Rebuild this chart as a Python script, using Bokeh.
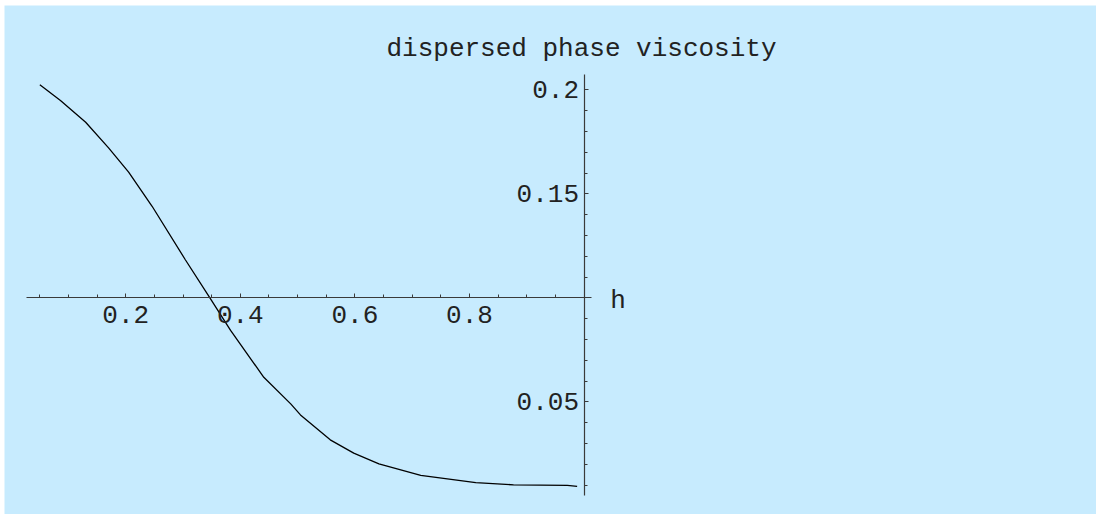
from bokeh.plotting import figure
from bokeh.models import Range1d, FixedTicker, Label
from bokeh.embed import file_html
from bokeh.resources import INLINE

# dispersed phase viscosity as a function of hold-up h
h = [0.050, 0.086, 0.130, 0.170, 0.205, 0.246, 0.304, 0.348, 0.383, 0.441,
     0.488, 0.505, 0.557, 0.598, 0.642, 0.715, 0.811, 0.877, 0.971, 0.988]
visc = [0.2024, 0.1949, 0.1844, 0.1721, 0.1604, 0.1440, 0.1183, 0.0995, 0.0843, 0.0618,
        0.0490, 0.0437, 0.0317, 0.0253, 0.0202, 0.0146, 0.0111, 0.0101, 0.0098, 0.0093]

x_ticks = [0.2, 0.4, 0.6, 0.8]
x_tick_labels = ["0.2", "0.4", "0.6", "0.8"]
x_minor = [0.05, 0.1, 0.15, 0.25, 0.3, 0.35, 0.45, 0.5, 0.55, 0.65, 0.7, 0.75, 0.85, 0.9, 0.95]
y_ticks = [0.05, 0.15, 0.2]
y_tick_labels = ["0.05", "0.15", "0.2"]
y_minor = [0.01, 0.02, 0.03, 0.04, 0.06, 0.07, 0.08, 0.09, 0.1, 0.11, 0.12, 0.13, 0.14,
           0.16, 0.17, 0.18, 0.19]

FONT = "Liberation Mono"
BG = "#C7EBFE"
INK = "#222222"
AXIS = "#3a3a3a"

W, H = 1096, 514
# pixels per unit and the screen position of the axes' crossing point (1, 0.1)
sx, x0 = 572.8, 10.7
sy, ycross = 2080.0, 297.3
left_pad, top_pad = 4, 5

p = figure(width=W, height=H, output_backend="svg", toolbar_location=None,
           x_range=Range1d((left_pad - x0) / sx, (W - x0) / sx),
           y_range=Range1d(0.1 - (H - ycross) / sy, 0.1 + (ycross - top_pad) / sy),
           min_border_left=left_pad, min_border_top=top_pad,
           min_border_right=0, min_border_bottom=0)
p.background_fill_color = BG
p.border_fill_color = "white"
p.outline_line_color = None
p.grid.visible = False

# axes cross at h = 1, viscosity = 0.1
xa = p.xaxis[0]
xa.fixed_location = 0.1
xa.bounds = (0.027, 1.0126)
xa.ticker = FixedTicker(ticks=x_ticks, minor_ticks=x_minor)
xa.major_label_overrides = {t: s for t, s in zip(x_ticks, x_tick_labels)}

ya = p.yaxis[0]
ya.fixed_location = 1.0
ya.bounds = (0.00495, 0.2073)
ya.ticker = FixedTicker(ticks=y_ticks, minor_ticks=y_minor)
ya.major_label_overrides = {t: s for t, s in zip(y_ticks, y_tick_labels)}

for ax in (xa, ya):
    ax.axis_line_color = AXIS
    ax.axis_line_width = 1.2
    ax.major_tick_line_color = AXIS
    ax.minor_tick_line_color = AXIS
    ax.major_tick_in = 4
    ax.major_tick_out = 0
    ax.minor_tick_in = 3
    ax.minor_tick_out = 0
    ax.major_label_text_font = FONT
    ax.major_label_text_font_size = "26px"
    ax.major_label_text_color = INK

xa.major_label_standoff = 8
ya.major_label_standoff = 5

p.line(h, visc, line_color="black", line_width=1.3)

p.add_layout(Label(x=577, y=H - 48, x_units="screen", y_units="screen",
                   text="dispersed phase viscosity", text_font=FONT,
                   text_font_size="26px", text_color=INK,
                   text_align="center", text_baseline="alphabetic"))
p.add_layout(Label(x=1.046, y=0.0985, text="h", text_font=FONT,
                   text_font_size="26px", text_color=INK,
                   text_align="left", text_baseline="alphabetic"))

open("out.html", "w").write(file_html(p, INLINE))
